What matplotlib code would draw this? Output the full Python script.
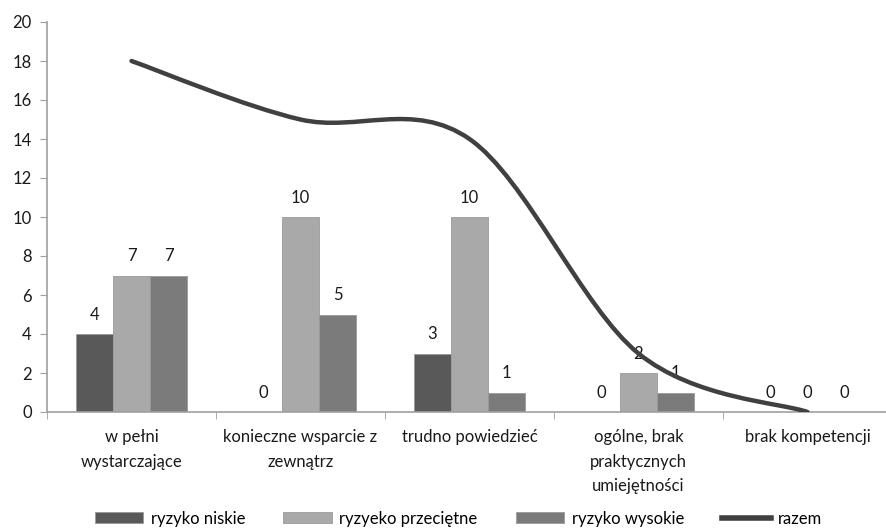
import matplotlib
matplotlib.use("Agg")
import matplotlib.pyplot as plt
from matplotlib.path import Path
from matplotlib.patches import PathPatch
from matplotlib.lines import Line2D

plt.rcParams['font.family'] = ['Lato', 'DejaVu Sans']

categories = ["w pełni\nwystarczające", "konieczne wsparcie z\nzewnątrz",
              "trudno powiedzieć", "ogólne, brak\npraktycznych\numiejętności",
              "brak kompetencji"]
niskie = [4, 0, 3, 0, 0]
przecietne = [7, 10, 10, 2, 0]
wysokie = [7, 5, 1, 1, 0]
razem = [18, 15, 14, 3, 0]

series = [
    ("ryzyko niskie", niskie, "#595959"),
    ("ryzyeko przeciętne", przecietne, "#a9a9a9"),
    ("ryzyko wysokie", wysokie, "#7b7b7b"),
]

FS = 12

fig = plt.figure(figsize=(8.87, 5.32), dpi=100)
ax = fig.add_axes([47 / 887, 120 / 532, 845 / 887, 390 / 532])

w = 0.22
centers = [i + 0.5 for i in range(len(categories))]
handles = []
for k, (name, vals, col) in enumerate(series):
    xs = [c + (k - 1) * w for c in centers]
    bars = ax.bar(xs, vals, width=w, color=col, edgecolor="#9a9a9a", linewidth=0.6)
    handles.append(bars)
    for x, v in zip(xs, vals):
        ax.annotate(str(v), (x, v), xytext=(0, 8), textcoords="offset points",
                    ha="center", va="bottom", fontsize=FS, color="#1a1a1a")

# smoothed line (Excel-style Catmull-Rom bezier through the points)
pts = list(zip(centers, razem))
verts = [pts[0]]
codes = [Path.MOVETO]
n = len(pts)
for i in range(n - 1):
    p0 = pts[max(i - 1, 0)]
    p1 = pts[i]
    p2 = pts[i + 1]
    p3 = pts[min(i + 2, n - 1)]
    c1 = (p1[0] + (p2[0] - p0[0]) / 6, p1[1] + (p2[1] - p0[1]) / 6)
    c2 = (p2[0] - (p3[0] - p1[0]) / 6, p2[1] - (p3[1] - p1[1]) / 6)
    verts += [c1, c2, p2]
    codes += [Path.CURVE4] * 3
line_col = "#404040"
ax.add_patch(PathPatch(Path(verts, codes), facecolor="none", edgecolor=line_col,
                       linewidth=3.2, capstyle="round", zorder=3))

ax.set_xlim(0, 5)
ax.set_ylim(0, 20)
ax.set_yticks(range(0, 21, 2))
ax.set_xticks(centers)
ax.set_xticklabels(categories, linespacing=1.68)
ax.set_xticks(range(0, 6), minor=True)
ax.tick_params(axis="x", which="major", length=0, pad=12, labelsize=FS, labelcolor="#1a1a1a")
ax.tick_params(axis="x", which="minor", length=5, color="#a0a0a0")
ax.tick_params(axis="y", length=5, color="#a0a0a0", pad=6, labelsize=FS, labelcolor="#1a1a1a")
for s in ["top", "right"]:
    ax.spines[s].set_visible(False)
for s in ["left", "bottom"]:
    ax.spines[s].set_color("#a0a0a0")
    ax.spines[s].set_linewidth(1.2)

handles.append(Line2D([], [], color=line_col, linewidth=4))
fig.legend(handles, [s[0] for s in series] + ["razem"], loc="lower center",
           bbox_to_anchor=(0.517, -0.018), ncol=4, frameon=False, fontsize=FS,
           handlelength=2.9, handleheight=0.6, columnspacing=2.3, handletextpad=0.45)

fig.savefig("out.png", dpi=100)
